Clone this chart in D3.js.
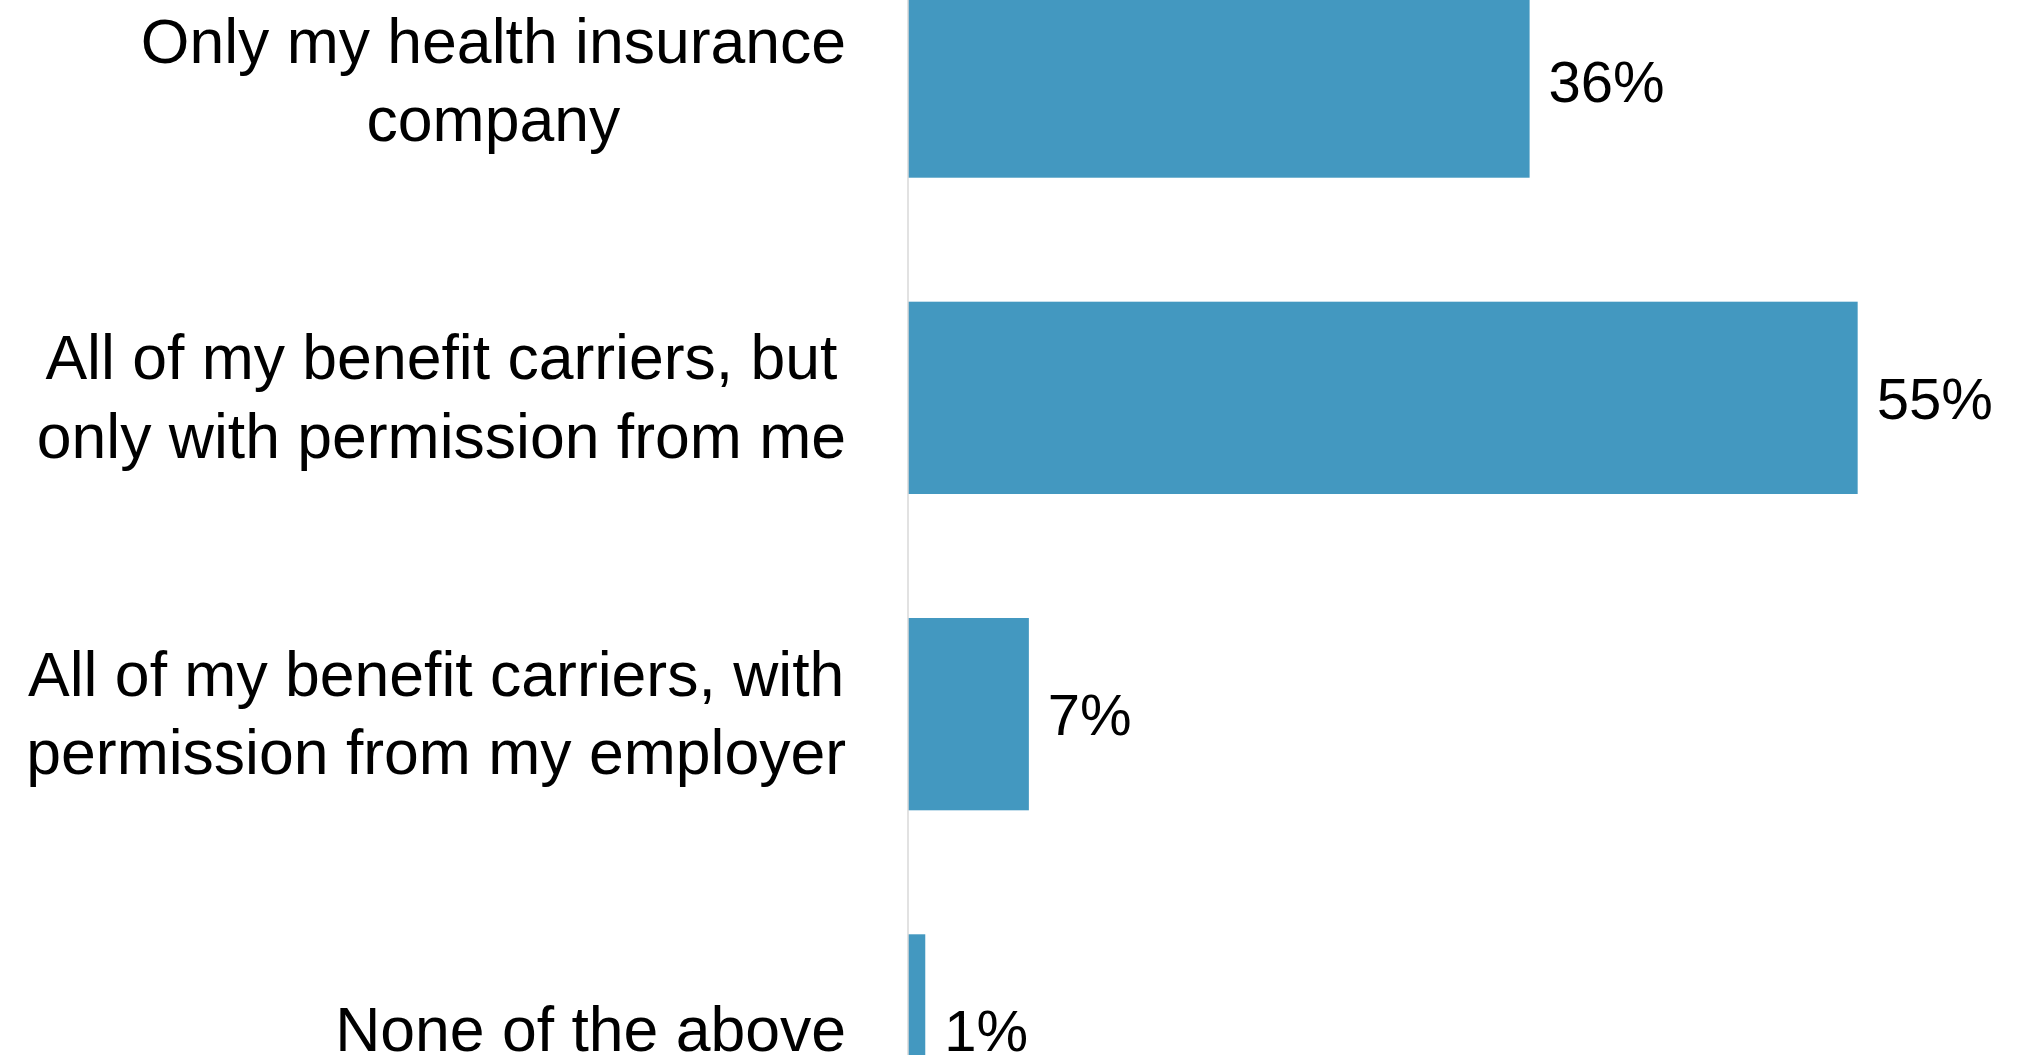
<!DOCTYPE html>
<html>
<head>
<meta charset="utf-8">
<script src="https://cdn.jsdelivr.net/npm/d3@7"></script>
<style>
  html, body { margin: 0; padding: 0; background: #ffffff; overflow: hidden; }
  svg { display: block; }
</style>
</head>
<body>
<svg id="chart" width="2032" height="1055"></svg>
<script>
// Survey responses: who may share my data
const categories = [
  "Only my health insurance\ncompany",
  "All of my benefit carriers, but\nonly with permission from me",
  "All of my benefit carriers, with\npermission from my employer",
  "None of the above"
];
const values = [36, 55, 7, 1];
const valueLabels = ["36%", "55%", "7%", "1%"];

const W = 2032, H = 1055;
const axisX = 908;
const barColor = "#4398c0";

const svg = d3.select("#chart");

const x = d3.scaleLinear()
  .domain([0, 60])
  .range([axisX, axisX + 1036]);

const y = d3.scaleBand()
  .domain(categories)
  .range([-76.6, 1188.6])
  .paddingInner(0.392)
  .paddingOuter(0.196);

// bars
svg.append("g")
  .selectAll("rect")
  .data(values)
  .join("rect")
  .attr("x", x(0))
  .attr("y", (d, i) => y(categories[i]))
  .attr("width", d => x(d) - x(0))
  .attr("height", y.bandwidth())
  .attr("fill", barColor);

// category axis line
svg.append("line")
  .attr("x1", axisX).attr("x2", axisX)
  .attr("y1", 0).attr("y2", H)
  .attr("stroke", "#d9d9d9")
  .attr("stroke-width", 1.5);

// value labels
svg.append("g")
  .selectAll("text")
  .data(values)
  .join("text")
  .attr("x", d => x(d) + 19)
  .attr("y", (d, i) => y(categories[i]) + y.bandwidth() / 2)
  .attr("dy", "0.36em")
  .attr("font-family", "'Liberation Sans', Arial, sans-serif")
  .attr("font-size", 58)
  .attr("fill", "#000")
  .text((d, i) => valueLabels[i]);

// category labels: centred lines, block right-aligned against the axis
const labelRight = 846;
const lineGap = 78.3;
const labels = svg.append("g")
  .attr("font-family", "'Liberation Sans', Arial, sans-serif")
  .attr("font-size", 62.5)
  .attr("fill", "#000");

categories.forEach(cat => {
  const lines = cat.split("\n");
  const cy = y(cat) + y.bandwidth() / 2;
  const t = labels.append("text").attr("text-anchor", "middle");
  const spans = lines.map((ln, i) =>
    t.append("tspan")
      .attr("y", cy + (i - (lines.length - 1) / 2) * lineGap)
      .attr("dy", "0.33em")
      .text(ln)
  );
  const maxW = d3.max(spans, s => s.node().getComputedTextLength());
  spans.forEach(s => s.attr("x", labelRight - maxW / 2));
});
</script>
</body>
</html>
